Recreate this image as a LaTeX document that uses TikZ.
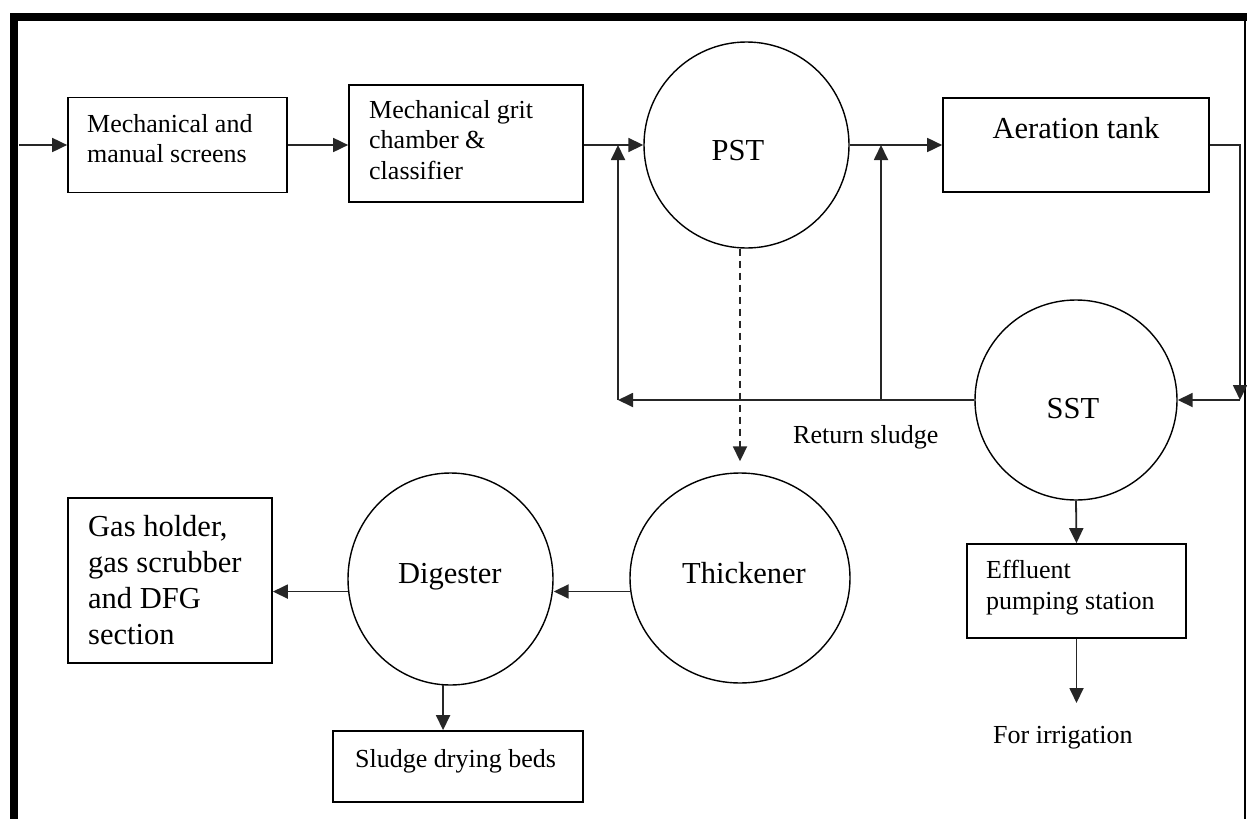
\documentclass[tikz,border=0pt]{standalone}
\usepackage{fontspec}
\setmainfont{Liberation Serif}
\usetikzlibrary{arrows.meta,shapes.geometric}
\tikzset{
  box/.style={draw, rectangle, line width=1.7pt, inner sep=0pt},
  tank/.style={draw, ellipse, line width=1.4pt, inner sep=0pt},
  flow/.style={line width=1.8pt, draw=black!85, -{Triangle[length=15pt,width=14pt]}},
  txt/.style={font=\fontsize{26}{30.5}\selectfont, inner sep=0pt, align=left},
  bigtxt/.style={font=\fontsize{30.5}{36}\selectfont, inner sep=0pt, align=left},
}
\begin{document}
\begin{tikzpicture}[x=1pt,y=-1pt]
\useasboundingbox (0,0) rectangle (1247,819);

% page frame
\fill (10,13) rectangle (1247,21);
\fill (10,13) rectangle (18,819);
\draw[line width=1.5pt] (1245,21) -- (1245,819);

% treatment units
\node[box, minimum width=219pt, minimum height=95pt]  (scr)  at (177.5,145)  {};
\node[box, minimum width=234pt, minimum height=117pt] (grit) at (466,143.5)  {};
\node[tank, minimum width=205pt, minimum height=206pt] (pst) at (746.5,145)  {};
\node[box, minimum width=266pt, minimum height=94pt]  (aer)  at (1076,145)   {};
\node[tank, minimum width=202pt, minimum height=200pt] (sst) at (1076,400)   {};
\node[tank, minimum width=220pt, minimum height=210pt] (thk) at (740,578)    {};
\node[tank, minimum width=205pt, minimum height=212pt] (dig) at (450.5,579)  {};
\node[box, minimum width=204pt, minimum height=165pt] (gas)  at (170,580.5)  {};
\node[box, minimum width=250pt, minimum height=71pt]  (dry)  at (458,766.5)  {};
\node[box, minimum width=219pt, minimum height=94pt]  (eff)  at (1076.5,591) {};

% labels
\node[txt, anchor=north west]  (scrT)  at (87,114)   {Mechanical and\\manual screens};
\node[txt, anchor=north west]  (gritT) at (369,100)  {Mechanical grit\\chamber \&\\classifier};
\node[bigtxt, anchor=base]     (aerT)  at (1076,138) {Aeration tank};
\node[bigtxt, anchor=base]     (pstT)  at (738,160)  {PST};
\node[bigtxt, anchor=base]     (sstT)  at (1073,418) {SST};
\node[bigtxt, anchor=base west] (thkT) at (682,583)  {Thickener};
\node[bigtxt, anchor=base west] (digT) at (398,583)  {Digester};
\node[bigtxt, anchor=north west] (gasT) at (88,515)  {Gas holder,\\gas scrubber\\and DFG\\section};
\node[txt, anchor=base west]   (dryT)  at (355,767)  {Sludge drying beds};
\node[txt, anchor=north west]  (effT)  at (986,560)  {Effluent\\pumping station};
\node[txt, anchor=base west]   (retT)  at (793,443)  {Return sludge};
\node[txt, anchor=base west]   (irrT)  at (993,743)  {For irrigation};

% main flow line
\coordinate (src) at (19,145);
\draw[flow] (src) -- (scr.west);
\draw[flow] (scr.east) -- (scr.east -| grit.west);
\draw[flow] (pst.west -| grit.east) -- (pst.west);
\draw[flow] (pst.east) -- (aer.west);
\coordinate (bend) at (1240,145);
\draw[flow] (aer.east) -- (bend) -- (bend |- sst.east);
\draw[flow] (bend |- sst.east) -- (sst.east);

% return sludge loop
\coordinate (retL) at (618,400);
\coordinate (retM) at (881,400);
\draw[flow] (sst.west) -- (retL);
\draw[flow] (retL) -- (retL |- pst.west);
\draw[flow] (retM) -- (retM |- pst.east);

% sludge line
\draw[flow, dash pattern=on 7pt off 5pt, shorten >=11pt] (pst.south -| thk.north) -- (thk.north);
\draw[flow] (thk.187) -- (thk.187 -| dig.east);
\draw[flow] (dig.187) -- (dig.187 -| gas.east);
\draw[flow] (dig.266) -- (dig.266 |- dry.north);

% effluent
\draw[flow] (sst.south) -- (eff.north);
\coordinate (irr) at (1076.5,703);
\draw[flow] (eff.south) -- (irr);
\end{tikzpicture}
\end{document}
